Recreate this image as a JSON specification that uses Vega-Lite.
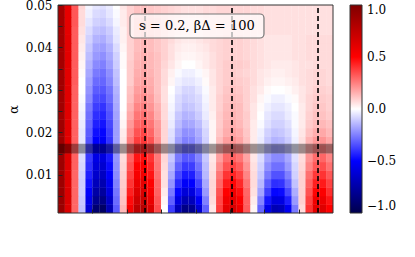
{
"$schema": "https://vega.github.io/schema/vega-lite/v6.json",
"width": 275, "height": 208,
"autosize": {"type": "none"},
"padding": {"left": 58, "top": 5, "right": 82, "bottom": 44},
"background": "white",
"config": {"view": {"stroke": null}, "font": "DejaVu Serif"},
"encoding": {
 "x": {"field": "x", "type": "quantitative", "scale": {"domain": [-0.5, 39.5], "nice": false, "zero": false},
  "axis": {"values": [4.5, 9.5, 14.5, 19.5, 24.5, 29.5, 34.5], "labels": false, "title": null, "domain": false, "grid": false, "tickSize": -4, "tickColor": "#222", "tickWidth": 1, "zindex": 1}},
 "y": {"field": "y", "type": "quantitative", "scale": {"domain": [0.001, 0.05], "nice": false, "zero": false},
  "axis": {"values": [0.005, 0.01, 0.015, 0.02, 0.025, 0.03, 0.035, 0.04, 0.045, 0.05],
   "labelExpr": "round(datum.value*1000) % 10 == 0 ? format(datum.value, '.2f') : ''",
   "title": "α", "titleFont": "DejaVu Serif", "titleFontSize": 13, "titleFontWeight": "normal", "titleColor": "#000", "titlePadding": 5,
   "labelFont": "DejaVu Serif", "labelFontSize": 12, "labelColor": "#000", "labelPadding": 10, "labelFlush": false, "labelOverlap": false,
   "domain": false, "grid": false, "tickSize": -4, "tickColor": "#222", "tickWidth": 1, "zindex": 1}}
},
"layer": [
{
"data": {"values": [
{"x":0,"y":0.002,"v":0.90},{"x":1,"y":0.002,"v":0.64},{"x":2,"y":0.002,"v":0.30},{"x":3,"y":0.002,"v":-0.12},{"x":4,"y":0.002,"v":-0.62},{"x":5,"y":0.002,"v":-0.90},{"x":6,"y":0.002,"v":-0.93},{"x":7,"y":0.002,"v":-0.71},{"x":8,"y":0.002,"v":-0.32},{"x":9,"y":0.002,"v":0.14},{"x":10,"y":0.002,"v":0.53},{"x":11,"y":0.002,"v":0.76},{"x":12,"y":0.002,"v":0.79},{"x":13,"y":0.002,"v":0.64},{"x":14,"y":0.002,"v":0.35},{"x":15,"y":0.002,"v":0.00},{"x":16,"y":0.002,"v":-0.38},{"x":17,"y":0.002,"v":-0.69},{"x":18,"y":0.002,"v":-0.84},{"x":19,"y":0.002,"v":-0.81},{"x":20,"y":0.002,"v":-0.62},{"x":21,"y":0.002,"v":-0.31},{"x":22,"y":0.002,"v":0.05},{"x":23,"y":0.002,"v":0.38},{"x":24,"y":0.002,"v":0.60},{"x":25,"y":0.002,"v":0.66},{"x":26,"y":0.002,"v":0.56},{"x":27,"y":0.002,"v":0.32},{"x":28,"y":0.002,"v":0.02},{"x":29,"y":0.002,"v":-0.30},{"x":30,"y":0.002,"v":-0.56},{"x":31,"y":0.002,"v":-0.71},{"x":32,"y":0.002,"v":-0.69},{"x":33,"y":0.002,"v":-0.54},{"x":34,"y":0.002,"v":-0.26},{"x":35,"y":0.002,"v":0.07},{"x":36,"y":0.002,"v":0.40},{"x":37,"y":0.002,"v":0.60},{"x":38,"y":0.002,"v":0.63},{"x":39,"y":0.002,"v":0.50},
{"x":0,"y":0.004,"v":0.90},{"x":1,"y":0.004,"v":0.64},{"x":2,"y":0.004,"v":0.30},{"x":3,"y":0.004,"v":-0.11},{"x":4,"y":0.004,"v":-0.56},{"x":5,"y":0.004,"v":-0.81},{"x":6,"y":0.004,"v":-0.84},{"x":7,"y":0.004,"v":-0.65},{"x":8,"y":0.004,"v":-0.29},{"x":9,"y":0.004,"v":0.12},{"x":10,"y":0.004,"v":0.48},{"x":11,"y":0.004,"v":0.69},{"x":12,"y":0.004,"v":0.71},{"x":13,"y":0.004,"v":0.58},{"x":14,"y":0.004,"v":0.33},{"x":15,"y":0.004,"v":0.02},{"x":16,"y":0.004,"v":-0.31},{"x":17,"y":0.004,"v":-0.58},{"x":18,"y":0.004,"v":-0.71},{"x":19,"y":0.004,"v":-0.69},{"x":20,"y":0.004,"v":-0.52},{"x":21,"y":0.004,"v":-0.25},{"x":22,"y":0.004,"v":0.07},{"x":23,"y":0.004,"v":0.36},{"x":24,"y":0.004,"v":0.55},{"x":25,"y":0.004,"v":0.60},{"x":26,"y":0.004,"v":0.51},{"x":27,"y":0.004,"v":0.31},{"x":28,"y":0.004,"v":0.04},{"x":29,"y":0.004,"v":-0.24},{"x":30,"y":0.004,"v":-0.46},{"x":31,"y":0.004,"v":-0.59},{"x":32,"y":0.004,"v":-0.58},{"x":33,"y":0.004,"v":-0.44},{"x":34,"y":0.004,"v":-0.20},{"x":35,"y":0.004,"v":0.09},{"x":36,"y":0.004,"v":0.37},{"x":37,"y":0.004,"v":0.55},{"x":38,"y":0.004,"v":0.57},{"x":39,"y":0.004,"v":0.46},
{"x":0,"y":0.006,"v":0.90},{"x":1,"y":0.006,"v":0.64},{"x":2,"y":0.006,"v":0.30},{"x":3,"y":0.006,"v":-0.10},{"x":4,"y":0.006,"v":-0.51},{"x":5,"y":0.006,"v":-0.75},{"x":6,"y":0.006,"v":-0.77},{"x":7,"y":0.006,"v":-0.59},{"x":8,"y":0.006,"v":-0.27},{"x":9,"y":0.006,"v":0.11},{"x":10,"y":0.006,"v":0.44},{"x":11,"y":0.006,"v":0.63},{"x":12,"y":0.006,"v":0.65},{"x":13,"y":0.006,"v":0.53},{"x":14,"y":0.006,"v":0.31},{"x":15,"y":0.006,"v":0.04},{"x":16,"y":0.006,"v":-0.26},{"x":17,"y":0.006,"v":-0.49},{"x":18,"y":0.006,"v":-0.61},{"x":19,"y":0.006,"v":-0.59},{"x":20,"y":0.006,"v":-0.44},{"x":21,"y":0.006,"v":-0.20},{"x":22,"y":0.006,"v":0.08},{"x":23,"y":0.006,"v":0.34},{"x":24,"y":0.006,"v":0.50},{"x":25,"y":0.006,"v":0.55},{"x":26,"y":0.006,"v":0.47},{"x":27,"y":0.006,"v":0.30},{"x":28,"y":0.006,"v":0.06},{"x":29,"y":0.006,"v":-0.18},{"x":30,"y":0.006,"v":-0.38},{"x":31,"y":0.006,"v":-0.49},{"x":32,"y":0.006,"v":-0.48},{"x":33,"y":0.006,"v":-0.36},{"x":34,"y":0.006,"v":-0.16},{"x":35,"y":0.006,"v":0.09},{"x":36,"y":0.006,"v":0.34},{"x":37,"y":0.006,"v":0.49},{"x":38,"y":0.006,"v":0.51},{"x":39,"y":0.006,"v":0.41},
{"x":0,"y":0.008,"v":0.89},{"x":1,"y":0.008,"v":0.63},{"x":2,"y":0.008,"v":0.30},{"x":3,"y":0.008,"v":-0.10},{"x":4,"y":0.008,"v":-0.47},{"x":5,"y":0.008,"v":-0.69},{"x":6,"y":0.008,"v":-0.72},{"x":7,"y":0.008,"v":-0.55},{"x":8,"y":0.008,"v":-0.25},{"x":9,"y":0.008,"v":0.10},{"x":10,"y":0.008,"v":0.40},{"x":11,"y":0.008,"v":0.58},{"x":12,"y":0.008,"v":0.60},{"x":13,"y":0.008,"v":0.50},{"x":14,"y":0.008,"v":0.30},{"x":15,"y":0.008,"v":0.06},{"x":16,"y":0.008,"v":-0.21},{"x":17,"y":0.008,"v":-0.42},{"x":18,"y":0.008,"v":-0.52},{"x":19,"y":0.008,"v":-0.50},{"x":20,"y":0.008,"v":-0.37},{"x":21,"y":0.008,"v":-0.17},{"x":22,"y":0.008,"v":0.08},{"x":23,"y":0.008,"v":0.30},{"x":24,"y":0.008,"v":0.45},{"x":25,"y":0.008,"v":0.49},{"x":26,"y":0.008,"v":0.42},{"x":27,"y":0.008,"v":0.27},{"x":28,"y":0.008,"v":0.07},{"x":29,"y":0.008,"v":-0.14},{"x":30,"y":0.008,"v":-0.32},{"x":31,"y":0.008,"v":-0.41},{"x":32,"y":0.008,"v":-0.40},{"x":33,"y":0.008,"v":-0.30},{"x":34,"y":0.008,"v":-0.12},{"x":35,"y":0.008,"v":0.09},{"x":36,"y":0.008,"v":0.31},{"x":37,"y":0.008,"v":0.44},{"x":38,"y":0.008,"v":0.45},{"x":39,"y":0.008,"v":0.37},
{"x":0,"y":0.010,"v":0.89},{"x":1,"y":0.010,"v":0.63},{"x":2,"y":0.010,"v":0.30},{"x":3,"y":0.010,"v":-0.09},{"x":4,"y":0.010,"v":-0.44},{"x":5,"y":0.010,"v":-0.64},{"x":6,"y":0.010,"v":-0.67},{"x":7,"y":0.010,"v":-0.51},{"x":8,"y":0.010,"v":-0.23},{"x":9,"y":0.010,"v":0.09},{"x":10,"y":0.010,"v":0.37},{"x":11,"y":0.010,"v":0.53},{"x":12,"y":0.010,"v":0.55},{"x":13,"y":0.010,"v":0.46},{"x":14,"y":0.010,"v":0.28},{"x":15,"y":0.010,"v":0.06},{"x":16,"y":0.010,"v":-0.17},{"x":17,"y":0.010,"v":-0.36},{"x":18,"y":0.010,"v":-0.45},{"x":19,"y":0.010,"v":-0.44},{"x":20,"y":0.010,"v":-0.32},{"x":21,"y":0.010,"v":-0.14},{"x":22,"y":0.010,"v":0.07},{"x":23,"y":0.010,"v":0.27},{"x":24,"y":0.010,"v":0.40},{"x":25,"y":0.010,"v":0.43},{"x":26,"y":0.010,"v":0.37},{"x":27,"y":0.010,"v":0.24},{"x":28,"y":0.010,"v":0.07},{"x":29,"y":0.010,"v":-0.11},{"x":30,"y":0.010,"v":-0.26},{"x":31,"y":0.010,"v":-0.34},{"x":32,"y":0.010,"v":-0.34},{"x":33,"y":0.010,"v":-0.25},{"x":34,"y":0.010,"v":-0.09},{"x":35,"y":0.010,"v":0.09},{"x":36,"y":0.010,"v":0.28},{"x":37,"y":0.010,"v":0.39},{"x":38,"y":0.010,"v":0.40},{"x":39,"y":0.010,"v":0.33},
{"x":0,"y":0.012,"v":0.89},{"x":1,"y":0.012,"v":0.63},{"x":2,"y":0.012,"v":0.31},{"x":3,"y":0.012,"v":-0.08},{"x":4,"y":0.012,"v":-0.41},{"x":5,"y":0.012,"v":-0.60},{"x":6,"y":0.012,"v":-0.63},{"x":7,"y":0.012,"v":-0.48},{"x":8,"y":0.012,"v":-0.22},{"x":9,"y":0.012,"v":0.08},{"x":10,"y":0.012,"v":0.34},{"x":11,"y":0.012,"v":0.50},{"x":12,"y":0.012,"v":0.51},{"x":13,"y":0.012,"v":0.43},{"x":14,"y":0.012,"v":0.27},{"x":15,"y":0.012,"v":0.07},{"x":16,"y":0.012,"v":-0.14},{"x":17,"y":0.012,"v":-0.31},{"x":18,"y":0.012,"v":-0.39},{"x":19,"y":0.012,"v":-0.38},{"x":20,"y":0.012,"v":-0.28},{"x":21,"y":0.012,"v":-0.13},{"x":22,"y":0.012,"v":0.06},{"x":23,"y":0.012,"v":0.23},{"x":24,"y":0.012,"v":0.34},{"x":25,"y":0.012,"v":0.37},{"x":26,"y":0.012,"v":0.32},{"x":27,"y":0.012,"v":0.21},{"x":28,"y":0.012,"v":0.06},{"x":29,"y":0.012,"v":-0.09},{"x":30,"y":0.012,"v":-0.22},{"x":31,"y":0.012,"v":-0.28},{"x":32,"y":0.012,"v":-0.28},{"x":33,"y":0.012,"v":-0.20},{"x":34,"y":0.012,"v":-0.08},{"x":35,"y":0.012,"v":0.08},{"x":36,"y":0.012,"v":0.24},{"x":37,"y":0.012,"v":0.33},{"x":38,"y":0.012,"v":0.35},{"x":39,"y":0.012,"v":0.28},
{"x":0,"y":0.014,"v":0.88},{"x":1,"y":0.014,"v":0.63},{"x":2,"y":0.014,"v":0.31},{"x":3,"y":0.014,"v":-0.07},{"x":4,"y":0.014,"v":-0.39},{"x":5,"y":0.014,"v":-0.57},{"x":6,"y":0.014,"v":-0.59},{"x":7,"y":0.014,"v":-0.45},{"x":8,"y":0.014,"v":-0.21},{"x":9,"y":0.014,"v":0.07},{"x":10,"y":0.014,"v":0.31},{"x":11,"y":0.014,"v":0.46},{"x":12,"y":0.014,"v":0.47},{"x":13,"y":0.014,"v":0.40},{"x":14,"y":0.014,"v":0.26},{"x":15,"y":0.014,"v":0.08},{"x":16,"y":0.014,"v":-0.11},{"x":17,"y":0.014,"v":-0.26},{"x":18,"y":0.014,"v":-0.33},{"x":19,"y":0.014,"v":-0.32},{"x":20,"y":0.014,"v":-0.24},{"x":21,"y":0.014,"v":-0.11},{"x":22,"y":0.014,"v":0.05},{"x":23,"y":0.014,"v":0.19},{"x":24,"y":0.014,"v":0.29},{"x":25,"y":0.014,"v":0.31},{"x":26,"y":0.014,"v":0.27},{"x":27,"y":0.014,"v":0.18},{"x":28,"y":0.014,"v":0.05},{"x":29,"y":0.014,"v":-0.07},{"x":30,"y":0.014,"v":-0.18},{"x":31,"y":0.014,"v":-0.23},{"x":32,"y":0.014,"v":-0.23},{"x":33,"y":0.014,"v":-0.17},{"x":34,"y":0.014,"v":-0.06},{"x":35,"y":0.014,"v":0.07},{"x":36,"y":0.014,"v":0.21},{"x":37,"y":0.014,"v":0.29},{"x":38,"y":0.014,"v":0.30},{"x":39,"y":0.014,"v":0.24},
{"x":0,"y":0.016,"v":0.88},{"x":1,"y":0.016,"v":0.63},{"x":2,"y":0.016,"v":0.31},{"x":3,"y":0.016,"v":-0.06},{"x":4,"y":0.016,"v":-0.36},{"x":5,"y":0.016,"v":-0.54},{"x":6,"y":0.016,"v":-0.56},{"x":7,"y":0.016,"v":-0.43},{"x":8,"y":0.016,"v":-0.21},{"x":9,"y":0.016,"v":0.06},{"x":10,"y":0.016,"v":0.28},{"x":11,"y":0.016,"v":0.42},{"x":12,"y":0.016,"v":0.43},{"x":13,"y":0.016,"v":0.37},{"x":14,"y":0.016,"v":0.24},{"x":15,"y":0.016,"v":0.08},{"x":16,"y":0.016,"v":-0.08},{"x":17,"y":0.016,"v":-0.22},{"x":18,"y":0.016,"v":-0.29},{"x":19,"y":0.016,"v":-0.28},{"x":20,"y":0.016,"v":-0.21},{"x":21,"y":0.016,"v":-0.09},{"x":22,"y":0.016,"v":0.04},{"x":23,"y":0.016,"v":0.16},{"x":24,"y":0.016,"v":0.24},{"x":25,"y":0.016,"v":0.26},{"x":26,"y":0.016,"v":0.23},{"x":27,"y":0.016,"v":0.15},{"x":28,"y":0.016,"v":0.05},{"x":29,"y":0.016,"v":-0.05},{"x":30,"y":0.016,"v":-0.14},{"x":31,"y":0.016,"v":-0.19},{"x":32,"y":0.016,"v":-0.18},{"x":33,"y":0.016,"v":-0.13},{"x":34,"y":0.016,"v":-0.04},{"x":35,"y":0.016,"v":0.07},{"x":36,"y":0.016,"v":0.17},{"x":37,"y":0.016,"v":0.24},{"x":38,"y":0.016,"v":0.25},{"x":39,"y":0.016,"v":0.20},
{"x":0,"y":0.018,"v":0.88},{"x":1,"y":0.018,"v":0.62},{"x":2,"y":0.018,"v":0.31},{"x":3,"y":0.018,"v":-0.05},{"x":4,"y":0.018,"v":-0.34},{"x":5,"y":0.018,"v":-0.50},{"x":6,"y":0.018,"v":-0.52},{"x":7,"y":0.018,"v":-0.40},{"x":8,"y":0.018,"v":-0.19},{"x":9,"y":0.018,"v":0.05},{"x":10,"y":0.018,"v":0.26},{"x":11,"y":0.018,"v":0.38},{"x":12,"y":0.018,"v":0.39},{"x":13,"y":0.018,"v":0.34},{"x":14,"y":0.018,"v":0.22},{"x":15,"y":0.018,"v":0.08},{"x":16,"y":0.018,"v":-0.07},{"x":17,"y":0.018,"v":-0.19},{"x":18,"y":0.018,"v":-0.25},{"x":19,"y":0.018,"v":-0.24},{"x":20,"y":0.018,"v":-0.18},{"x":21,"y":0.018,"v":-0.09},{"x":22,"y":0.018,"v":0.02},{"x":23,"y":0.018,"v":0.13},{"x":24,"y":0.018,"v":0.19},{"x":25,"y":0.018,"v":0.21},{"x":26,"y":0.018,"v":0.18},{"x":27,"y":0.018,"v":0.12},{"x":28,"y":0.018,"v":0.04},{"x":29,"y":0.018,"v":-0.04},{"x":30,"y":0.018,"v":-0.11},{"x":31,"y":0.018,"v":-0.15},{"x":32,"y":0.018,"v":-0.14},{"x":33,"y":0.018,"v":-0.10},{"x":34,"y":0.018,"v":-0.03},{"x":35,"y":0.018,"v":0.06},{"x":36,"y":0.018,"v":0.15},{"x":37,"y":0.018,"v":0.20},{"x":38,"y":0.018,"v":0.21},{"x":39,"y":0.018,"v":0.17},
{"x":0,"y":0.020,"v":0.88},{"x":1,"y":0.020,"v":0.62},{"x":2,"y":0.020,"v":0.31},{"x":3,"y":0.020,"v":-0.05},{"x":4,"y":0.020,"v":-0.32},{"x":5,"y":0.020,"v":-0.47},{"x":6,"y":0.020,"v":-0.49},{"x":7,"y":0.020,"v":-0.38},{"x":8,"y":0.020,"v":-0.19},{"x":9,"y":0.020,"v":0.04},{"x":10,"y":0.020,"v":0.23},{"x":11,"y":0.020,"v":0.34},{"x":12,"y":0.020,"v":0.36},{"x":13,"y":0.020,"v":0.30},{"x":14,"y":0.020,"v":0.20},{"x":15,"y":0.020,"v":0.08},{"x":16,"y":0.020,"v":-0.06},{"x":17,"y":0.020,"v":-0.16},{"x":18,"y":0.020,"v":-0.22},{"x":19,"y":0.020,"v":-0.21},{"x":20,"y":0.020,"v":-0.16},{"x":21,"y":0.020,"v":-0.08},{"x":22,"y":0.020,"v":0.02},{"x":23,"y":0.020,"v":0.11},{"x":24,"y":0.020,"v":0.16},{"x":25,"y":0.020,"v":0.18},{"x":26,"y":0.020,"v":0.16},{"x":27,"y":0.020,"v":0.11},{"x":28,"y":0.020,"v":0.04},{"x":29,"y":0.020,"v":-0.03},{"x":30,"y":0.020,"v":-0.09},{"x":31,"y":0.020,"v":-0.12},{"x":32,"y":0.020,"v":-0.11},{"x":33,"y":0.020,"v":-0.08},{"x":34,"y":0.020,"v":-0.02},{"x":35,"y":0.020,"v":0.05},{"x":36,"y":0.020,"v":0.12},{"x":37,"y":0.020,"v":0.16},{"x":38,"y":0.020,"v":0.17},{"x":39,"y":0.020,"v":0.14},
{"x":0,"y":0.022,"v":0.88},{"x":1,"y":0.022,"v":0.62},{"x":2,"y":0.022,"v":0.31},{"x":3,"y":0.022,"v":-0.04},{"x":4,"y":0.022,"v":-0.30},{"x":5,"y":0.022,"v":-0.44},{"x":6,"y":0.022,"v":-0.46},{"x":7,"y":0.022,"v":-0.36},{"x":8,"y":0.022,"v":-0.19},{"x":9,"y":0.022,"v":0.02},{"x":10,"y":0.022,"v":0.20},{"x":11,"y":0.022,"v":0.30},{"x":12,"y":0.022,"v":0.32},{"x":13,"y":0.022,"v":0.27},{"x":14,"y":0.022,"v":0.19},{"x":15,"y":0.022,"v":0.08},{"x":16,"y":0.022,"v":-0.04},{"x":17,"y":0.022,"v":-0.13},{"x":18,"y":0.022,"v":-0.18},{"x":19,"y":0.022,"v":-0.17},{"x":20,"y":0.022,"v":-0.13},{"x":21,"y":0.022,"v":-0.06},{"x":22,"y":0.022,"v":0.02},{"x":23,"y":0.022,"v":0.10},{"x":24,"y":0.022,"v":0.15},{"x":25,"y":0.022,"v":0.16},{"x":26,"y":0.022,"v":0.14},{"x":27,"y":0.022,"v":0.10},{"x":28,"y":0.022,"v":0.04},{"x":29,"y":0.022,"v":-0.01},{"x":30,"y":0.022,"v":-0.06},{"x":31,"y":0.022,"v":-0.09},{"x":32,"y":0.022,"v":-0.09},{"x":33,"y":0.022,"v":-0.06},{"x":34,"y":0.022,"v":-0.01},{"x":35,"y":0.022,"v":0.04},{"x":36,"y":0.022,"v":0.10},{"x":37,"y":0.022,"v":0.13},{"x":38,"y":0.022,"v":0.14},{"x":39,"y":0.022,"v":0.12},
{"x":0,"y":0.024,"v":0.87},{"x":1,"y":0.024,"v":0.62},{"x":2,"y":0.024,"v":0.31},{"x":3,"y":0.024,"v":-0.03},{"x":4,"y":0.024,"v":-0.28},{"x":5,"y":0.024,"v":-0.41},{"x":6,"y":0.024,"v":-0.43},{"x":7,"y":0.024,"v":-0.34},{"x":8,"y":0.024,"v":-0.18},{"x":9,"y":0.024,"v":0.01},{"x":10,"y":0.024,"v":0.17},{"x":11,"y":0.024,"v":0.27},{"x":12,"y":0.024,"v":0.28},{"x":13,"y":0.024,"v":0.24},{"x":14,"y":0.024,"v":0.16},{"x":15,"y":0.024,"v":0.07},{"x":16,"y":0.024,"v":-0.03},{"x":17,"y":0.024,"v":-0.11},{"x":18,"y":0.024,"v":-0.15},{"x":19,"y":0.024,"v":-0.14},{"x":20,"y":0.024,"v":-0.10},{"x":21,"y":0.024,"v":-0.04},{"x":22,"y":0.024,"v":0.03},{"x":23,"y":0.024,"v":0.10},{"x":24,"y":0.024,"v":0.14},{"x":25,"y":0.024,"v":0.15},{"x":26,"y":0.024,"v":0.13},{"x":27,"y":0.024,"v":0.10},{"x":28,"y":0.024,"v":0.05},{"x":29,"y":0.024,"v":0.00},{"x":30,"y":0.024,"v":-0.05},{"x":31,"y":0.024,"v":-0.07},{"x":32,"y":0.024,"v":-0.07},{"x":33,"y":0.024,"v":-0.04},{"x":34,"y":0.024,"v":-0.01},{"x":35,"y":0.024,"v":0.04},{"x":36,"y":0.024,"v":0.09},{"x":37,"y":0.024,"v":0.12},{"x":38,"y":0.024,"v":0.12},{"x":39,"y":0.024,"v":0.10},
{"x":0,"y":0.026,"v":0.87},{"x":1,"y":0.026,"v":0.62},{"x":2,"y":0.026,"v":0.31},{"x":3,"y":0.026,"v":-0.02},{"x":4,"y":0.026,"v":-0.26},{"x":5,"y":0.026,"v":-0.38},{"x":6,"y":0.026,"v":-0.40},{"x":7,"y":0.026,"v":-0.32},{"x":8,"y":0.026,"v":-0.17},{"x":9,"y":0.026,"v":0.00},{"x":10,"y":0.026,"v":0.15},{"x":11,"y":0.026,"v":0.24},{"x":12,"y":0.026,"v":0.25},{"x":13,"y":0.026,"v":0.21},{"x":14,"y":0.026,"v":0.15},{"x":15,"y":0.026,"v":0.07},{"x":16,"y":0.026,"v":-0.02},{"x":17,"y":0.026,"v":-0.08},{"x":18,"y":0.026,"v":-0.12},{"x":19,"y":0.026,"v":-0.11},{"x":20,"y":0.026,"v":-0.08},{"x":21,"y":0.026,"v":-0.03},{"x":22,"y":0.026,"v":0.04},{"x":23,"y":0.026,"v":0.09},{"x":24,"y":0.026,"v":0.13},{"x":25,"y":0.026,"v":0.14},{"x":26,"y":0.026,"v":0.13},{"x":27,"y":0.026,"v":0.09},{"x":28,"y":0.026,"v":0.05},{"x":29,"y":0.026,"v":0.01},{"x":30,"y":0.026,"v":-0.03},{"x":31,"y":0.026,"v":-0.05},{"x":32,"y":0.026,"v":-0.05},{"x":33,"y":0.026,"v":-0.03},{"x":34,"y":0.026,"v":0.00},{"x":35,"y":0.026,"v":0.04},{"x":36,"y":0.026,"v":0.08},{"x":37,"y":0.026,"v":0.11},{"x":38,"y":0.026,"v":0.11},{"x":39,"y":0.026,"v":0.09},
{"x":0,"y":0.028,"v":0.87},{"x":1,"y":0.028,"v":0.62},{"x":2,"y":0.028,"v":0.31},{"x":3,"y":0.028,"v":-0.01},{"x":4,"y":0.028,"v":-0.23},{"x":5,"y":0.028,"v":-0.35},{"x":6,"y":0.028,"v":-0.36},{"x":7,"y":0.028,"v":-0.29},{"x":8,"y":0.028,"v":-0.16},{"x":9,"y":0.028,"v":0.00},{"x":10,"y":0.028,"v":0.13},{"x":11,"y":0.028,"v":0.21},{"x":12,"y":0.028,"v":0.22},{"x":13,"y":0.028,"v":0.19},{"x":14,"y":0.028,"v":0.13},{"x":15,"y":0.028,"v":0.06},{"x":16,"y":0.028,"v":-0.01},{"x":17,"y":0.028,"v":-0.07},{"x":18,"y":0.028,"v":-0.10},{"x":19,"y":0.028,"v":-0.09},{"x":20,"y":0.028,"v":-0.07},{"x":21,"y":0.028,"v":-0.02},{"x":22,"y":0.028,"v":0.04},{"x":23,"y":0.028,"v":0.09},{"x":24,"y":0.028,"v":0.12},{"x":25,"y":0.028,"v":0.13},{"x":26,"y":0.028,"v":0.12},{"x":27,"y":0.028,"v":0.09},{"x":28,"y":0.028,"v":0.06},{"x":29,"y":0.028,"v":0.02},{"x":30,"y":0.028,"v":-0.01},{"x":31,"y":0.028,"v":-0.03},{"x":32,"y":0.028,"v":-0.03},{"x":33,"y":0.028,"v":-0.01},{"x":34,"y":0.028,"v":0.01},{"x":35,"y":0.028,"v":0.05},{"x":36,"y":0.028,"v":0.08},{"x":37,"y":0.028,"v":0.10},{"x":38,"y":0.028,"v":0.10},{"x":39,"y":0.028,"v":0.09},
{"x":0,"y":0.030,"v":0.87},{"x":1,"y":0.030,"v":0.62},{"x":2,"y":0.030,"v":0.31},{"x":3,"y":0.030,"v":0.00},{"x":4,"y":0.030,"v":-0.21},{"x":5,"y":0.030,"v":-0.32},{"x":6,"y":0.030,"v":-0.33},{"x":7,"y":0.030,"v":-0.27},{"x":8,"y":0.030,"v":-0.15},{"x":9,"y":0.030,"v":0.00},{"x":10,"y":0.030,"v":0.12},{"x":11,"y":0.030,"v":0.19},{"x":12,"y":0.030,"v":0.20},{"x":13,"y":0.030,"v":0.17},{"x":14,"y":0.030,"v":0.12},{"x":15,"y":0.030,"v":0.06},{"x":16,"y":0.030,"v":0.00},{"x":17,"y":0.030,"v":-0.05},{"x":18,"y":0.030,"v":-0.08},{"x":19,"y":0.030,"v":-0.08},{"x":20,"y":0.030,"v":-0.05},{"x":21,"y":0.030,"v":-0.01},{"x":22,"y":0.030,"v":0.04},{"x":23,"y":0.030,"v":0.08},{"x":24,"y":0.030,"v":0.11},{"x":25,"y":0.030,"v":0.12},{"x":26,"y":0.030,"v":0.11},{"x":27,"y":0.030,"v":0.09},{"x":28,"y":0.030,"v":0.06},{"x":29,"y":0.030,"v":0.04},{"x":30,"y":0.030,"v":0.01},{"x":31,"y":0.030,"v":0.00},{"x":32,"y":0.030,"v":0.00},{"x":33,"y":0.030,"v":0.01},{"x":34,"y":0.030,"v":0.03},{"x":35,"y":0.030,"v":0.05},{"x":36,"y":0.030,"v":0.07},{"x":37,"y":0.030,"v":0.09},{"x":38,"y":0.030,"v":0.09},{"x":39,"y":0.030,"v":0.08},
{"x":0,"y":0.032,"v":0.87},{"x":1,"y":0.032,"v":0.61},{"x":2,"y":0.032,"v":0.32},{"x":3,"y":0.032,"v":0.00},{"x":4,"y":0.032,"v":-0.19},{"x":5,"y":0.032,"v":-0.29},{"x":6,"y":0.032,"v":-0.30},{"x":7,"y":0.032,"v":-0.24},{"x":8,"y":0.032,"v":-0.13},{"x":9,"y":0.032,"v":0.00},{"x":10,"y":0.032,"v":0.10},{"x":11,"y":0.032,"v":0.17},{"x":12,"y":0.032,"v":0.18},{"x":13,"y":0.032,"v":0.16},{"x":14,"y":0.032,"v":0.12},{"x":15,"y":0.032,"v":0.07},{"x":16,"y":0.032,"v":0.02},{"x":17,"y":0.032,"v":-0.03},{"x":18,"y":0.032,"v":-0.05},{"x":19,"y":0.032,"v":-0.05},{"x":20,"y":0.032,"v":-0.03},{"x":21,"y":0.032,"v":0.01},{"x":22,"y":0.032,"v":0.05},{"x":23,"y":0.032,"v":0.08},{"x":24,"y":0.032,"v":0.10},{"x":25,"y":0.032,"v":0.11},{"x":26,"y":0.032,"v":0.10},{"x":27,"y":0.032,"v":0.09},{"x":28,"y":0.032,"v":0.07},{"x":29,"y":0.032,"v":0.05},{"x":30,"y":0.032,"v":0.03},{"x":31,"y":0.032,"v":0.02},{"x":32,"y":0.032,"v":0.02},{"x":33,"y":0.032,"v":0.03},{"x":34,"y":0.032,"v":0.04},{"x":35,"y":0.032,"v":0.06},{"x":36,"y":0.032,"v":0.07},{"x":37,"y":0.032,"v":0.08},{"x":38,"y":0.032,"v":0.08},{"x":39,"y":0.032,"v":0.07},
{"x":0,"y":0.034,"v":0.87},{"x":1,"y":0.034,"v":0.61},{"x":2,"y":0.034,"v":0.32},{"x":3,"y":0.034,"v":0.01},{"x":4,"y":0.034,"v":-0.17},{"x":5,"y":0.034,"v":-0.26},{"x":6,"y":0.034,"v":-0.28},{"x":7,"y":0.034,"v":-0.22},{"x":8,"y":0.034,"v":-0.12},{"x":9,"y":0.034,"v":0.00},{"x":10,"y":0.034,"v":0.10},{"x":11,"y":0.034,"v":0.16},{"x":12,"y":0.034,"v":0.17},{"x":13,"y":0.034,"v":0.15},{"x":14,"y":0.034,"v":0.12},{"x":15,"y":0.034,"v":0.07},{"x":16,"y":0.034,"v":0.03},{"x":17,"y":0.034,"v":-0.01},{"x":18,"y":0.034,"v":-0.03},{"x":19,"y":0.034,"v":-0.03},{"x":20,"y":0.034,"v":-0.01},{"x":21,"y":0.034,"v":0.02},{"x":22,"y":0.034,"v":0.05},{"x":23,"y":0.034,"v":0.08},{"x":24,"y":0.034,"v":0.10},{"x":25,"y":0.034,"v":0.10},{"x":26,"y":0.034,"v":0.09},{"x":27,"y":0.034,"v":0.08},{"x":28,"y":0.034,"v":0.07},{"x":29,"y":0.034,"v":0.05},{"x":30,"y":0.034,"v":0.04},{"x":31,"y":0.034,"v":0.03},{"x":32,"y":0.034,"v":0.03},{"x":33,"y":0.034,"v":0.04},{"x":34,"y":0.034,"v":0.05},{"x":35,"y":0.034,"v":0.06},{"x":36,"y":0.034,"v":0.07},{"x":37,"y":0.034,"v":0.08},{"x":38,"y":0.034,"v":0.08},{"x":39,"y":0.034,"v":0.07},
{"x":0,"y":0.036,"v":0.86},{"x":1,"y":0.036,"v":0.61},{"x":2,"y":0.036,"v":0.32},{"x":3,"y":0.036,"v":0.02},{"x":4,"y":0.036,"v":-0.15},{"x":5,"y":0.036,"v":-0.23},{"x":6,"y":0.036,"v":-0.25},{"x":7,"y":0.036,"v":-0.19},{"x":8,"y":0.036,"v":-0.10},{"x":9,"y":0.036,"v":0.01},{"x":10,"y":0.036,"v":0.10},{"x":11,"y":0.036,"v":0.15},{"x":12,"y":0.036,"v":0.16},{"x":13,"y":0.036,"v":0.14},{"x":14,"y":0.036,"v":0.12},{"x":15,"y":0.036,"v":0.08},{"x":16,"y":0.036,"v":0.05},{"x":17,"y":0.036,"v":0.02},{"x":18,"y":0.036,"v":0.00},{"x":19,"y":0.036,"v":0.00},{"x":20,"y":0.036,"v":0.02},{"x":21,"y":0.036,"v":0.04},{"x":22,"y":0.036,"v":0.06},{"x":23,"y":0.036,"v":0.08},{"x":24,"y":0.036,"v":0.10},{"x":25,"y":0.036,"v":0.10},{"x":26,"y":0.036,"v":0.10},{"x":27,"y":0.036,"v":0.09},{"x":28,"y":0.036,"v":0.07},{"x":29,"y":0.036,"v":0.06},{"x":30,"y":0.036,"v":0.05},{"x":31,"y":0.036,"v":0.04},{"x":32,"y":0.036,"v":0.04},{"x":33,"y":0.036,"v":0.04},{"x":34,"y":0.036,"v":0.05},{"x":35,"y":0.036,"v":0.06},{"x":36,"y":0.036,"v":0.06},{"x":37,"y":0.036,"v":0.07},{"x":38,"y":0.036,"v":0.07},{"x":39,"y":0.036,"v":0.07},
{"x":0,"y":0.038,"v":0.86},{"x":1,"y":0.038,"v":0.61},{"x":2,"y":0.038,"v":0.32},{"x":3,"y":0.038,"v":0.03},{"x":4,"y":0.038,"v":-0.13},{"x":5,"y":0.038,"v":-0.20},{"x":6,"y":0.038,"v":-0.22},{"x":7,"y":0.038,"v":-0.17},{"x":8,"y":0.038,"v":-0.09},{"x":9,"y":0.038,"v":0.01},{"x":10,"y":0.038,"v":0.09},{"x":11,"y":0.038,"v":0.14},{"x":12,"y":0.038,"v":0.15},{"x":13,"y":0.038,"v":0.14},{"x":14,"y":0.038,"v":0.12},{"x":15,"y":0.038,"v":0.09},{"x":16,"y":0.038,"v":0.06},{"x":17,"y":0.038,"v":0.03},{"x":18,"y":0.038,"v":0.02},{"x":19,"y":0.038,"v":0.02},{"x":20,"y":0.038,"v":0.03},{"x":21,"y":0.038,"v":0.04},{"x":22,"y":0.038,"v":0.06},{"x":23,"y":0.038,"v":0.08},{"x":24,"y":0.038,"v":0.09},{"x":25,"y":0.038,"v":0.09},{"x":26,"y":0.038,"v":0.09},{"x":27,"y":0.038,"v":0.08},{"x":28,"y":0.038,"v":0.07},{"x":29,"y":0.038,"v":0.06},{"x":30,"y":0.038,"v":0.05},{"x":31,"y":0.038,"v":0.05},{"x":32,"y":0.038,"v":0.05},{"x":33,"y":0.038,"v":0.05},{"x":34,"y":0.038,"v":0.06},{"x":35,"y":0.038,"v":0.06},{"x":36,"y":0.038,"v":0.07},{"x":37,"y":0.038,"v":0.07},{"x":38,"y":0.038,"v":0.07},{"x":39,"y":0.038,"v":0.07},
{"x":0,"y":0.040,"v":0.86},{"x":1,"y":0.040,"v":0.61},{"x":2,"y":0.040,"v":0.32},{"x":3,"y":0.040,"v":0.04},{"x":4,"y":0.040,"v":-0.11},{"x":5,"y":0.040,"v":-0.18},{"x":6,"y":0.040,"v":-0.19},{"x":7,"y":0.040,"v":-0.15},{"x":8,"y":0.040,"v":-0.07},{"x":9,"y":0.040,"v":0.02},{"x":10,"y":0.040,"v":0.09},{"x":11,"y":0.040,"v":0.13},{"x":12,"y":0.040,"v":0.14},{"x":13,"y":0.040,"v":0.13},{"x":14,"y":0.040,"v":0.11},{"x":15,"y":0.040,"v":0.09},{"x":16,"y":0.040,"v":0.06},{"x":17,"y":0.040,"v":0.04},{"x":18,"y":0.040,"v":0.03},{"x":19,"y":0.040,"v":0.03},{"x":20,"y":0.040,"v":0.04},{"x":21,"y":0.040,"v":0.05},{"x":22,"y":0.040,"v":0.07},{"x":23,"y":0.040,"v":0.08},{"x":24,"y":0.040,"v":0.09},{"x":25,"y":0.040,"v":0.09},{"x":26,"y":0.040,"v":0.09},{"x":27,"y":0.040,"v":0.08},{"x":28,"y":0.040,"v":0.07},{"x":29,"y":0.040,"v":0.06},{"x":30,"y":0.040,"v":0.05},{"x":31,"y":0.040,"v":0.05},{"x":32,"y":0.040,"v":0.05},{"x":33,"y":0.040,"v":0.05},{"x":34,"y":0.040,"v":0.06},{"x":35,"y":0.040,"v":0.06},{"x":36,"y":0.040,"v":0.07},{"x":37,"y":0.040,"v":0.07},{"x":38,"y":0.040,"v":0.07},{"x":39,"y":0.040,"v":0.07},
{"x":0,"y":0.042,"v":0.86},{"x":1,"y":0.042,"v":0.61},{"x":2,"y":0.042,"v":0.32},{"x":3,"y":0.042,"v":0.05},{"x":4,"y":0.042,"v":-0.09},{"x":5,"y":0.042,"v":-0.15},{"x":6,"y":0.042,"v":-0.16},{"x":7,"y":0.042,"v":-0.12},{"x":8,"y":0.042,"v":-0.05},{"x":9,"y":0.042,"v":0.03},{"x":10,"y":0.042,"v":0.09},{"x":11,"y":0.042,"v":0.13},{"x":12,"y":0.042,"v":0.14},{"x":13,"y":0.042,"v":0.13},{"x":14,"y":0.042,"v":0.11},{"x":15,"y":0.042,"v":0.09},{"x":16,"y":0.042,"v":0.07},{"x":17,"y":0.042,"v":0.05},{"x":18,"y":0.042,"v":0.04},{"x":19,"y":0.042,"v":0.04},{"x":20,"y":0.042,"v":0.05},{"x":21,"y":0.042,"v":0.06},{"x":22,"y":0.042,"v":0.07},{"x":23,"y":0.042,"v":0.08},{"x":24,"y":0.042,"v":0.09},{"x":25,"y":0.042,"v":0.09},{"x":26,"y":0.042,"v":0.09},{"x":27,"y":0.042,"v":0.08},{"x":28,"y":0.042,"v":0.07},{"x":29,"y":0.042,"v":0.06},{"x":30,"y":0.042,"v":0.05},{"x":31,"y":0.042,"v":0.05},{"x":32,"y":0.042,"v":0.05},{"x":33,"y":0.042,"v":0.05},{"x":34,"y":0.042,"v":0.06},{"x":35,"y":0.042,"v":0.06},{"x":36,"y":0.042,"v":0.07},{"x":37,"y":0.042,"v":0.07},{"x":38,"y":0.042,"v":0.07},{"x":39,"y":0.042,"v":0.07},
{"x":0,"y":0.044,"v":0.86},{"x":1,"y":0.044,"v":0.60},{"x":2,"y":0.044,"v":0.32},{"x":3,"y":0.044,"v":0.06},{"x":4,"y":0.044,"v":-0.07},{"x":5,"y":0.044,"v":-0.12},{"x":6,"y":0.044,"v":-0.13},{"x":7,"y":0.044,"v":-0.10},{"x":8,"y":0.044,"v":-0.04},{"x":9,"y":0.044,"v":0.03},{"x":10,"y":0.044,"v":0.09},{"x":11,"y":0.044,"v":0.13},{"x":12,"y":0.044,"v":0.13},{"x":13,"y":0.044,"v":0.12},{"x":14,"y":0.044,"v":0.11},{"x":15,"y":0.044,"v":0.09},{"x":16,"y":0.044,"v":0.07},{"x":17,"y":0.044,"v":0.06},{"x":18,"y":0.044,"v":0.05},{"x":19,"y":0.044,"v":0.05},{"x":20,"y":0.044,"v":0.05},{"x":21,"y":0.044,"v":0.06},{"x":22,"y":0.044,"v":0.07},{"x":23,"y":0.044,"v":0.07},{"x":24,"y":0.044,"v":0.08},{"x":25,"y":0.044,"v":0.08},{"x":26,"y":0.044,"v":0.08},{"x":27,"y":0.044,"v":0.08},{"x":28,"y":0.044,"v":0.07},{"x":29,"y":0.044,"v":0.07},{"x":30,"y":0.044,"v":0.06},{"x":31,"y":0.044,"v":0.06},{"x":32,"y":0.044,"v":0.06},{"x":33,"y":0.044,"v":0.06},{"x":34,"y":0.044,"v":0.06},{"x":35,"y":0.044,"v":0.06},{"x":36,"y":0.044,"v":0.06},{"x":37,"y":0.044,"v":0.06},{"x":38,"y":0.044,"v":0.06},{"x":39,"y":0.044,"v":0.06},
{"x":0,"y":0.046,"v":0.86},{"x":1,"y":0.046,"v":0.60},{"x":2,"y":0.046,"v":0.33},{"x":3,"y":0.046,"v":0.07},{"x":4,"y":0.046,"v":-0.05},{"x":5,"y":0.046,"v":-0.09},{"x":6,"y":0.046,"v":-0.10},{"x":7,"y":0.046,"v":-0.07},{"x":8,"y":0.046,"v":-0.02},{"x":9,"y":0.046,"v":0.04},{"x":10,"y":0.046,"v":0.09},{"x":11,"y":0.046,"v":0.13},{"x":12,"y":0.046,"v":0.13},{"x":13,"y":0.046,"v":0.12},{"x":14,"y":0.046,"v":0.11},{"x":15,"y":0.046,"v":0.09},{"x":16,"y":0.046,"v":0.07},{"x":17,"y":0.046,"v":0.06},{"x":18,"y":0.046,"v":0.05},{"x":19,"y":0.046,"v":0.05},{"x":20,"y":0.046,"v":0.05},{"x":21,"y":0.046,"v":0.06},{"x":22,"y":0.046,"v":0.07},{"x":23,"y":0.046,"v":0.07},{"x":24,"y":0.046,"v":0.08},{"x":25,"y":0.046,"v":0.08},{"x":26,"y":0.046,"v":0.08},{"x":27,"y":0.046,"v":0.08},{"x":28,"y":0.046,"v":0.07},{"x":29,"y":0.046,"v":0.07},{"x":30,"y":0.046,"v":0.06},{"x":31,"y":0.046,"v":0.06},{"x":32,"y":0.046,"v":0.06},{"x":33,"y":0.046,"v":0.06},{"x":34,"y":0.046,"v":0.06},{"x":35,"y":0.046,"v":0.06},{"x":36,"y":0.046,"v":0.06},{"x":37,"y":0.046,"v":0.06},{"x":38,"y":0.046,"v":0.06},{"x":39,"y":0.046,"v":0.06},
{"x":0,"y":0.048,"v":0.86},{"x":1,"y":0.048,"v":0.60},{"x":2,"y":0.048,"v":0.33},{"x":3,"y":0.048,"v":0.07},{"x":4,"y":0.048,"v":-0.03},{"x":5,"y":0.048,"v":-0.07},{"x":6,"y":0.048,"v":-0.08},{"x":7,"y":0.048,"v":-0.05},{"x":8,"y":0.048,"v":-0.01},{"x":9,"y":0.048,"v":0.04},{"x":10,"y":0.048,"v":0.09},{"x":11,"y":0.048,"v":0.12},{"x":12,"y":0.048,"v":0.12},{"x":13,"y":0.048,"v":0.11},{"x":14,"y":0.048,"v":0.10},{"x":15,"y":0.048,"v":0.09},{"x":16,"y":0.048,"v":0.08},{"x":17,"y":0.048,"v":0.07},{"x":18,"y":0.048,"v":0.06},{"x":19,"y":0.048,"v":0.06},{"x":20,"y":0.048,"v":0.06},{"x":21,"y":0.048,"v":0.07},{"x":22,"y":0.048,"v":0.07},{"x":23,"y":0.048,"v":0.08},{"x":24,"y":0.048,"v":0.08},{"x":25,"y":0.048,"v":0.08},{"x":26,"y":0.048,"v":0.08},{"x":27,"y":0.048,"v":0.08},{"x":28,"y":0.048,"v":0.07},{"x":29,"y":0.048,"v":0.07},{"x":30,"y":0.048,"v":0.06},{"x":31,"y":0.048,"v":0.06},{"x":32,"y":0.048,"v":0.06},{"x":33,"y":0.048,"v":0.06},{"x":34,"y":0.048,"v":0.06},{"x":35,"y":0.048,"v":0.06},{"x":36,"y":0.048,"v":0.06},{"x":37,"y":0.048,"v":0.06},{"x":38,"y":0.048,"v":0.06},{"x":39,"y":0.048,"v":0.06},
{"x":0,"y":0.050,"v":0.86},{"x":1,"y":0.050,"v":0.60},{"x":2,"y":0.050,"v":0.33},{"x":3,"y":0.050,"v":0.08},{"x":4,"y":0.050,"v":-0.02},{"x":5,"y":0.050,"v":-0.05},{"x":6,"y":0.050,"v":-0.06},{"x":7,"y":0.050,"v":-0.04},{"x":8,"y":0.050,"v":0.00},{"x":9,"y":0.050,"v":0.05},{"x":10,"y":0.050,"v":0.09},{"x":11,"y":0.050,"v":0.12},{"x":12,"y":0.050,"v":0.12},{"x":13,"y":0.050,"v":0.11},{"x":14,"y":0.050,"v":0.10},{"x":15,"y":0.050,"v":0.09},{"x":16,"y":0.050,"v":0.08},{"x":17,"y":0.050,"v":0.07},{"x":18,"y":0.050,"v":0.06},{"x":19,"y":0.050,"v":0.06},{"x":20,"y":0.050,"v":0.06},{"x":21,"y":0.050,"v":0.07},{"x":22,"y":0.050,"v":0.07},{"x":23,"y":0.050,"v":0.08},{"x":24,"y":0.050,"v":0.08},{"x":25,"y":0.050,"v":0.08},{"x":26,"y":0.050,"v":0.08},{"x":27,"y":0.050,"v":0.08},{"x":28,"y":0.050,"v":0.07},{"x":29,"y":0.050,"v":0.07},{"x":30,"y":0.050,"v":0.06},{"x":31,"y":0.050,"v":0.06},{"x":32,"y":0.050,"v":0.06},{"x":33,"y":0.050,"v":0.06},{"x":34,"y":0.050,"v":0.06},{"x":35,"y":0.050,"v":0.06},{"x":36,"y":0.050,"v":0.06},{"x":37,"y":0.050,"v":0.06},{"x":38,"y":0.050,"v":0.06},{"x":39,"y":0.050,"v":0.06}
]},
"mark": {"type": "rect", "width": 7, "height": 9, "clip": true},
"encoding": {
 "color": {"field": "v", "type": "quantitative",
  "scale": {"domain": [-1, -0.5, 0, 0.5, 1], "range": ["#00004c", "#0000ff", "#ffffff", "#ff0000", "#800000"], "interpolate": "rgb"},
  "legend": {"orient": "none", "legendX": 292, "legendY": 0, "direction": "vertical", "gradientLength": 208, "gradientThickness": 12,
   "gradientStrokeColor": "#333", "gradientStrokeWidth": 1, "title": null, "values": [-1, -0.5, 0, 0.5, 1], "format": ".1f",
   "labelFont": "DejaVu Serif", "labelFontSize": 12, "labelColor": "#000", "labelOffset": 5, "labelOverlap": false, "labelFlush": false}}
}
},
{
"data": {"values": [{"x": -0.5, "x2": 39.5, "y": 0.015, "y2": 0.0173}]},
"mark": {"type": "rect", "color": "#000", "opacity": 0.38},
"encoding": {"x2": {"field": "x2"}, "y2": {"field": "y2"}}
},
{
"data": {"values": [{"x": 12.16, "y": 0.001, "y2": 0.05}, {"x": 24.81, "y": 0.001, "y2": 0.05}, {"x": 37.32, "y": 0.001, "y2": 0.05}]},
"mark": {"type": "rule", "color": "#000", "strokeWidth": 1.6, "strokeDash": [5, 3]},
"encoding": {"y2": {"field": "y2"}}
},
{
"data": {"values": [{"x": 9.97, "x2": 29.46, "y": 0.04223, "y2": 0.04788}]},
"mark": {"type": "rect", "fill": "#ffffff", "fillOpacity": 0.7, "stroke": "#777", "strokeWidth": 1.2, "cornerRadius": 4},
"encoding": {"x2": {"field": "x2"}, "y2": {"field": "y2"}}
},
{
"data": {"values": [{"x": 19.7, "y": 0.04505, "t": "s = 0.2,  βΔ = 100"}]},
"mark": {"type": "text", "font": "DejaVu Serif", "fontSize": 13, "color": "#000", "align": "center", "baseline": "middle"},
"encoding": {"text": {"field": "t"}}
},
{
"data": {"values": [{"x": -0.5, "x2": 39.5, "y": 0.001, "y2": 0.05}]},
"mark": {"type": "rect", "fill": "transparent", "stroke": "#333", "strokeWidth": 1},
"encoding": {"x2": {"field": "x2"}, "y2": {"field": "y2"}}
}
]
}
